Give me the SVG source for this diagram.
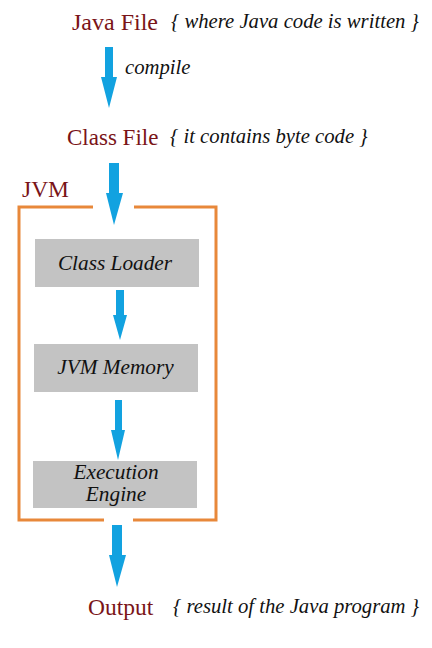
<svg xmlns="http://www.w3.org/2000/svg" width="432" height="648" viewBox="0 0 432 648">
<style>
.t{font-family:"Liberation Serif","Times New Roman",serif;fill:#7a1418;font-size:23px}
.n{font-family:"Liberation Serif","Times New Roman",serif;font-style:italic;fill:#111;font-size:20.7px}
.b{font-family:"Liberation Serif","Times New Roman",serif;font-style:italic;fill:#111;font-size:21.3px;text-anchor:middle}
.box{fill:#c3c3c3}
.arr{fill:#12a2e0}
.jvm{fill:none;stroke:#e8883a;stroke-width:3}
</style>
<rect width="432" height="648" fill="#fff"/>
<g id="labels">
<text class="t" x="72" y="30" style="font-size:24px">Java File</text>
<text class="n" x="171" y="28">{ where Java code is written }</text>
<text class="n" x="125" y="74">compile</text>
<text class="t" x="67" y="145">Class File</text>
<text class="n" x="170" y="143">{ it contains byte code }</text>
<text class="t" x="88" y="615" style="font-size:23.5px">Output</text>
<text class="n" x="173" y="613">{ result of the Java program }</text>
</g>
<g id="jvm">
<path class="jvm" d="M93 207 H19 V520 H104 M133 520 H216 V207 H134"/>
<text class="t" x="22" y="197" style="font-size:23.5px">JVM</text>
</g>
<g id="classloader">
<rect class="box" x="35" y="239" width="164" height="48"/>
<text class="b" x="115" y="270">Class Loader</text>
</g>
<g id="jvmmemory">
<rect class="box" x="34" y="344" width="164" height="48"/>
<text class="b" x="115.5" y="374">JVM Memory</text>
</g>
<g id="engine">
<rect class="box" x="33" y="461" width="164" height="47"/>
<text class="b" x="116" y="479">Execution</text>
<text class="b" x="116" y="501">Engine</text>
</g>
<g id="connectors">
<polygon class="arr" points="105,47 113,47 113,77 117,77 109,108 101,77 105,77"/>
<polygon class="arr" points="109,163 119,163 119,193 123,193 114,225 106,193 109,193"/>
<polygon class="arr" points="116,290 124,290 124,315 127,315 120,340 113,315 116,315"/>
<polygon class="arr" points="115,400 122,400 122,430 125,430 118,460 111,430 115,430"/>
<polygon class="arr" points="112,525 122,525 122,555 126,555 117,587 109,555 112,555"/>
</g>
</svg>
